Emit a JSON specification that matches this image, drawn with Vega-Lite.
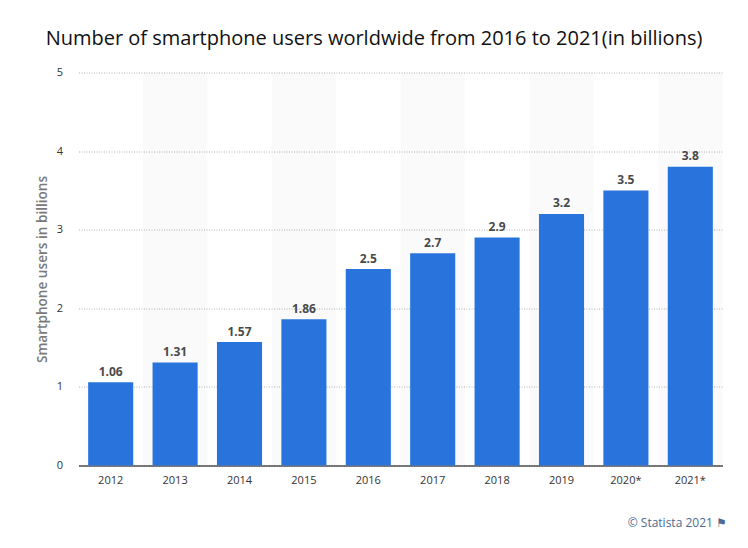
{
  "$schema": "https://vega.github.io/schema/vega-lite/v6.json",
  "width": 644,
  "height": 393,
  "autosize": "none",
  "padding": {"left": 78.5, "top": 72.5, "right": 25.5, "bottom": 82.5},
  "background": "#ffffff",
  "title": {
    "text": "Number of smartphone users worldwide from 2016 to 2021(in billions)",
    "font": "Open Sans",
    "fontSize": 20,
    "fontWeight": 500,
    "color": "#111111",
    "anchor": "middle",
    "dx": -26.5,
    "offset": 18
  },
  "config": {"view": {"stroke": null}},
  "datasets": {
    "users": [
      {"year": "2012", "users": 1.06},
      {"year": "2013", "users": 1.31},
      {"year": "2014", "users": 1.57},
      {"year": "2015", "users": 1.86},
      {"year": "2016", "users": 2.5},
      {"year": "2017", "users": 2.7},
      {"year": "2018", "users": 2.9},
      {"year": "2019", "users": 3.2},
      {"year": "2020*", "users": 3.5},
      {"year": "2021*", "users": 3.8}
    ],
    "stripes": [
      {"year": "2013", "top": 5},
      {"year": "2015", "top": 5},
      {"year": "2017", "top": 5},
      {"year": "2019", "top": 5},
      {"year": "2021*", "top": 5}
    ]
  },
  "layer": [
    {
      "data": {"name": "stripes"},
      "mark": {"type": "bar", "fill": "#000000", "opacity": 0.02, "width": {"band": 1}},
      "encoding": {
        "x": {"field": "year", "type": "nominal"},
        "y": {"field": "top", "type": "quantitative"}
      }
    },
    {
      "data": {"name": "users"},
      "mark": {"type": "bar", "fill": "#2874dc", "width": {"band": 0.7}},
      "encoding": {
        "x": {
          "field": "year",
          "type": "nominal",
          "sort": null,
          "scale": {
            "domain": ["2012", "2013", "2014", "2015", "2016", "2017", "2018", "2019", "2020*", "2021*"],
            "paddingInner": 0,
            "paddingOuter": 0
          },
          "axis": {
            "title": "© Statista 2021 ⚑",
            "titleFont": "Open Sans",
            "titleFontSize": 12,
            "titleFontWeight": 400,
            "titleColor": "#4f6a8f",
            "titleX": 648,
            "titleAlign": "right",
            "titlePadding": 32,
            "labelAngle": 0,
            "labelAlign": "center",
            "labelBaseline": "top",
            "labelFont": "Open Sans",
            "labelFontSize": 11,
            "labelColor": "#333333",
            "labelPadding": 9,
            "ticks": false,
            "domainColor": "#000000",
            "domainWidth": 1.2,
            "grid": false
          }
        },
        "y": {
          "field": "users",
          "type": "quantitative",
          "scale": {"domain": [0, 5], "nice": false},
          "axis": {
            "title": "Smartphone users in billions",
            "titleFont": "Open Sans",
            "titleFontSize": 13.6,
            "titleFontWeight": 600,
            "titleColor": "#7a7a7a",
            "titlePadding": 7,
            "values": [0, 1, 2, 3, 4, 5],
            "format": "d",
            "labelFont": "Open Sans",
            "labelFontSize": 11,
            "labelColor": "#333333",
            "labelPadding": 16,
            "ticks": false,
            "domain": false,
            "grid": true,
            "gridColor": "#b4b4b4",
            "gridDash": [1, 1.5],
            "gridWidth": 1
          }
        }
      }
    },
    {
      "data": {"name": "users"},
      "mark": {
        "type": "text",
        "font": "Open Sans",
        "fontSize": 12,
        "fontWeight": 700,
        "color": "#4a4a4a",
        "baseline": "bottom",
        "dy": -3.5
      },
      "encoding": {
        "x": {"field": "year", "type": "nominal"},
        "y": {"field": "users", "type": "quantitative"},
        "text": {"field": "users", "type": "quantitative"}
      }
    }
  ]
}
